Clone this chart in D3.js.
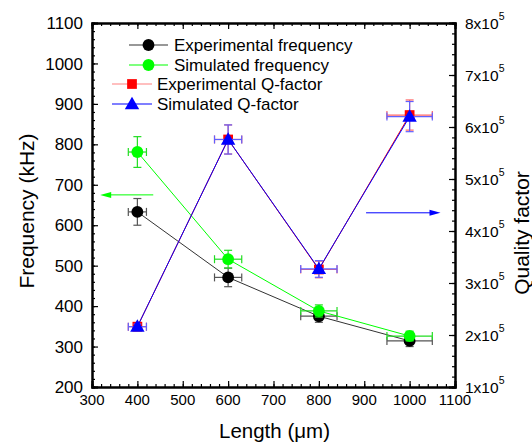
<!DOCTYPE html>
<html>
<head>
<meta charset="utf-8">
<script src="https://cdn.jsdelivr.net/npm/d3@7"></script>
<style>
  body { margin: 0; background: #fff; }
  text { font-family: Arial, "Liberation Sans", sans-serif; }
</style>
</head>
<body>
<div id="chart"></div>
<script>
// data
var lengths = [400, 600, 800, 1000];
var lengthErr = [20, 30, 40, 50];

var expFreq = [633, 471, 375, 314];
var expFreqErr = [33, 23, 15, 14];
var simFreq = [781, 516, 388, 326];
var simFreqErr = [38, 22, 15, 12];

var expQ = [2.16e5, 5.76e5, 3.26e5, 6.23e5];
var expQErr = [0.06e5, 0.28e5, 0.16e5, 0.29e5];
var simQ = [2.16e5, 5.76e5, 3.27e5, 6.20e5];
var simQErr = [0.05e5, 0.28e5, 0.16e5, 0.29e5];

var freqTicks = [200, 300, 400, 500, 600, 700, 800, 900, 1000, 1100];
var lengthTicks = [300, 400, 500, 600, 700, 800, 900, 1000, 1100];
var qTicks = [1, 2, 3, 4, 5, 6, 7, 8];

var W = 532, H = 444;
// plot box (window.top is reserved, so use own names)
var plotLeft = 92, plotRight = 455, plotTop = 23, plotBottom = 387;

var svg = d3.select("#chart").append("svg")
    .attr("width", W).attr("height", H);

var x = d3.scaleLinear().domain([300, 1100]).range([plotLeft, plotRight]);
var yF = d3.scaleLinear().domain([200, 1100]).range([plotBottom, plotTop]);
var yQ = d3.scaleLinear().domain([1e5, 8e5]).range([plotBottom, plotTop]);

// axes, ticks pointing inwards
function minorTicks(lo, hi, step) {
    var out = [];
    for (var v = lo; v <= hi + 1e-9; v += step) out.push(v);
    return out;
}

svg.append("g").attr("transform", "translate(0," + plotBottom + ")")
    .call(d3.axisTop(x).tickValues(minorTicks(300, 1100, 20)).tickSize(3).tickFormat(""));
svg.append("g").attr("transform", "translate(0," + plotBottom + ")")
    .call(d3.axisTop(x).tickValues(lengthTicks).tickSize(6).tickFormat(""));
svg.append("g").attr("transform", "translate(0," + plotTop + ")")
    .call(d3.axisBottom(x).tickValues(minorTicks(300, 1100, 20)).tickSize(3).tickFormat(""));
svg.append("g").attr("transform", "translate(0," + plotTop + ")")
    .call(d3.axisBottom(x).tickValues(lengthTicks).tickSize(6).tickFormat(""));

svg.append("g").attr("transform", "translate(" + plotLeft + ",0)")
    .call(d3.axisRight(yF).tickValues(minorTicks(200, 1100, 20)).tickSize(3).tickFormat(""));
svg.append("g").attr("transform", "translate(" + plotLeft + ",0)")
    .call(d3.axisRight(yF).tickValues(freqTicks).tickSize(6).tickFormat(""));

svg.append("g").attr("transform", "translate(" + plotRight + ",0)")
    .call(d3.axisLeft(yQ).tickValues(minorTicks(1e5, 8e5, 0.2e5)).tickSize(3).tickFormat(""));
svg.append("g").attr("transform", "translate(" + plotRight + ",0)")
    .call(d3.axisLeft(yQ).tickValues(qTicks.map(function (d) { return d * 1e5; })).tickSize(6).tickFormat(""));

svg.selectAll(".domain").attr("stroke", "#000").attr("stroke-width", 2);
svg.selectAll(".tick line").attr("stroke", "#000").attr("stroke-width", 1.2);

// tick labels
svg.selectAll(".flab").data(freqTicks).enter().append("text")
    .attr("x", plotLeft - 9).attr("y", function (d) { return yF(d); })
    .attr("dy", "0.36em").attr("text-anchor", "end")
    .attr("font-size", 17).text(function (d) { return d; });

svg.selectAll(".xlab").data(lengthTicks).enter().append("text")
    .attr("x", function (d) { return x(d); }).attr("y", plotBottom + 18)
    .attr("text-anchor", "middle")
    .attr("font-size", 15).text(function (d) { return d; });

var ql = svg.selectAll(".qlab").data(qTicks).enter().append("text")
    .attr("x", plotRight + 10).attr("y", function (d) { return yQ(d * 1e5) + 6; })
    .attr("font-size", 15.5);
ql.append("tspan").text(function (d) { return d + "x10"; });
ql.append("tspan").attr("dy", -9).attr("font-size", 10.5).text("5");

// axis titles
svg.append("text").attr("transform", "translate(34,211) rotate(-90)")
    .attr("text-anchor", "middle").attr("font-size", 21).text("Frequency (kHz)");
svg.append("text").attr("transform", "translate(529,233) rotate(-90)")
    .attr("text-anchor", "middle").attr("font-size", 21).text("Quality factor");
svg.append("text").attr("x", (plotLeft + plotRight) / 2 + 1).attr("y", 438)
    .attr("text-anchor", "middle").attr("font-size", 20.5).text("Length (\u03bcm)");

// series
var series = [
    { name: "Experimental frequency", y: yF, vals: expFreq, err: expFreqErr, color: "#333", errColor: "#555", shape: "circle" },
    { name: "Simulated frequency", y: yF, vals: simFreq, err: simFreqErr, color: "#00ff00", errColor: "#22dd22", shape: "circle" },
    { name: "Experimental Q-factor", y: yQ, vals: expQ, err: expQErr, color: "#ff0000", errColor: "#ff6666", shape: "square" },
    { name: "Simulated Q-factor", y: yQ, vals: simQ, err: simQErr, color: "#0000ff", errColor: "#6060ff", shape: "triangle" }
];

function symbolFor(shape) {
    if (shape === "circle") return d3.symbol().type(d3.symbolCircle).size(110);
    if (shape === "square") return d3.symbol().type(d3.symbolSquare).size(95);
    return d3.symbol().type(d3.symbolTriangle).size(90);
}

series.forEach(function (s) {
    var g = svg.append("g");
    var pts = lengths.map(function (l, i) { return { x: l, y: s.vals[i], ey: s.err[i], ex: lengthErr[i] }; });
    var line = d3.line().x(function (d) { return x(d.x); }).y(function (d) { return s.y(d.y); });
    g.append("path").datum(pts).attr("d", line)
        .attr("fill", "none").attr("stroke", s.color).attr("stroke-width", 1);

    var eb = g.selectAll(".eb").data(pts).enter().append("g")
        .attr("stroke", s.errColor).attr("stroke-width", 1.2).attr("fill", "none");
    // vertical
    eb.append("line")
        .attr("x1", function (d) { return x(d.x); }).attr("x2", function (d) { return x(d.x); })
        .attr("y1", function (d) { return s.y(d.y - d.ey); }).attr("y2", function (d) { return s.y(d.y + d.ey); });
    eb.append("line")
        .attr("x1", function (d) { return x(d.x) - 4; }).attr("x2", function (d) { return x(d.x) + 4; })
        .attr("y1", function (d) { return s.y(d.y + d.ey); }).attr("y2", function (d) { return s.y(d.y + d.ey); });
    eb.append("line")
        .attr("x1", function (d) { return x(d.x) - 4; }).attr("x2", function (d) { return x(d.x) + 4; })
        .attr("y1", function (d) { return s.y(d.y - d.ey); }).attr("y2", function (d) { return s.y(d.y - d.ey); });
    // horizontal
    eb.append("line")
        .attr("x1", function (d) { return x(d.x - d.ex); }).attr("x2", function (d) { return x(d.x + d.ex); })
        .attr("y1", function (d) { return s.y(d.y); }).attr("y2", function (d) { return s.y(d.y); });
    eb.append("line")
        .attr("x1", function (d) { return x(d.x - d.ex); }).attr("x2", function (d) { return x(d.x - d.ex); })
        .attr("y1", function (d) { return s.y(d.y) - 4; }).attr("y2", function (d) { return s.y(d.y) + 4; });
    eb.append("line")
        .attr("x1", function (d) { return x(d.x + d.ex); }).attr("x2", function (d) { return x(d.x + d.ex); })
        .attr("y1", function (d) { return s.y(d.y) - 4; }).attr("y2", function (d) { return s.y(d.y) + 4; });

    g.selectAll(".mk").data(pts).enter().append("path")
        .attr("d", symbolFor(s.shape)())
        .attr("transform", function (d) { return "translate(" + x(d.x) + "," + (s.y(d.y) + (s.shape === "triangle" ? 1 : 0)) + ")"; })
        .attr("fill", s.shape === "circle" && s.color === "#333" ? "#000" : s.color);
});

// legend
var legendRows = [
    { y: 45, x0: 129, x1: 168, tx: 174 },
    { y: 65, x0: 129, x1: 168, tx: 174 },
    { y: 84, x0: 112, x1: 152, tx: 157 },
    { y: 104, x0: 112, x1: 152, tx: 157 }
];
series.forEach(function (s, i) {
    var r = legendRows[i];
    var g = svg.append("g");
    g.append("line").attr("x1", r.x0).attr("x2", r.x1).attr("y1", r.y).attr("y2", r.y)
        .attr("stroke", s.shape === "square" ? "#ff8080" : s.color).attr("stroke-width", 1.2);
    g.append("path").attr("d", symbolFor(s.shape)())
        .attr("transform", "translate(" + (r.x0 + r.x1) / 2 + "," + (r.y + (s.shape === "triangle" ? 1 : 0)) + ")")
        .attr("fill", s.shape === "circle" && s.color === "#333" ? "#000" : s.color);
    g.append("text").attr("x", r.tx).attr("y", r.y + 6)
        .attr("font-size", 17).text(s.name);
});

// arrows pointing to each axis
var arrows = [
    { from: [435, 675], to: [318, 675], y: yF, color: "#00ff00" },
    { from: [904, 4.35e5], to: [1068, 4.35e5], y: yQ, color: "#0000ff" }
];
arrows.forEach(function (a) {
    var x0 = x(a.from[0]), x1 = x(a.to[0]), yy = a.y(a.from[1]);
    var dir = x1 > x0 ? 1 : -1;
    svg.append("line").attr("x1", x0).attr("x2", x1 - dir * 8).attr("y1", yy).attr("y2", yy)
        .attr("stroke", a.color).attr("stroke-width", 1);
    svg.append("path")
        .attr("d", "M" + x1 + "," + yy + "L" + (x1 - dir * 11) + "," + (yy - 3) + "L" + (x1 - dir * 11) + "," + (yy + 3) + "Z")
        .attr("fill", a.color);
});
</script>
</body>
</html>
